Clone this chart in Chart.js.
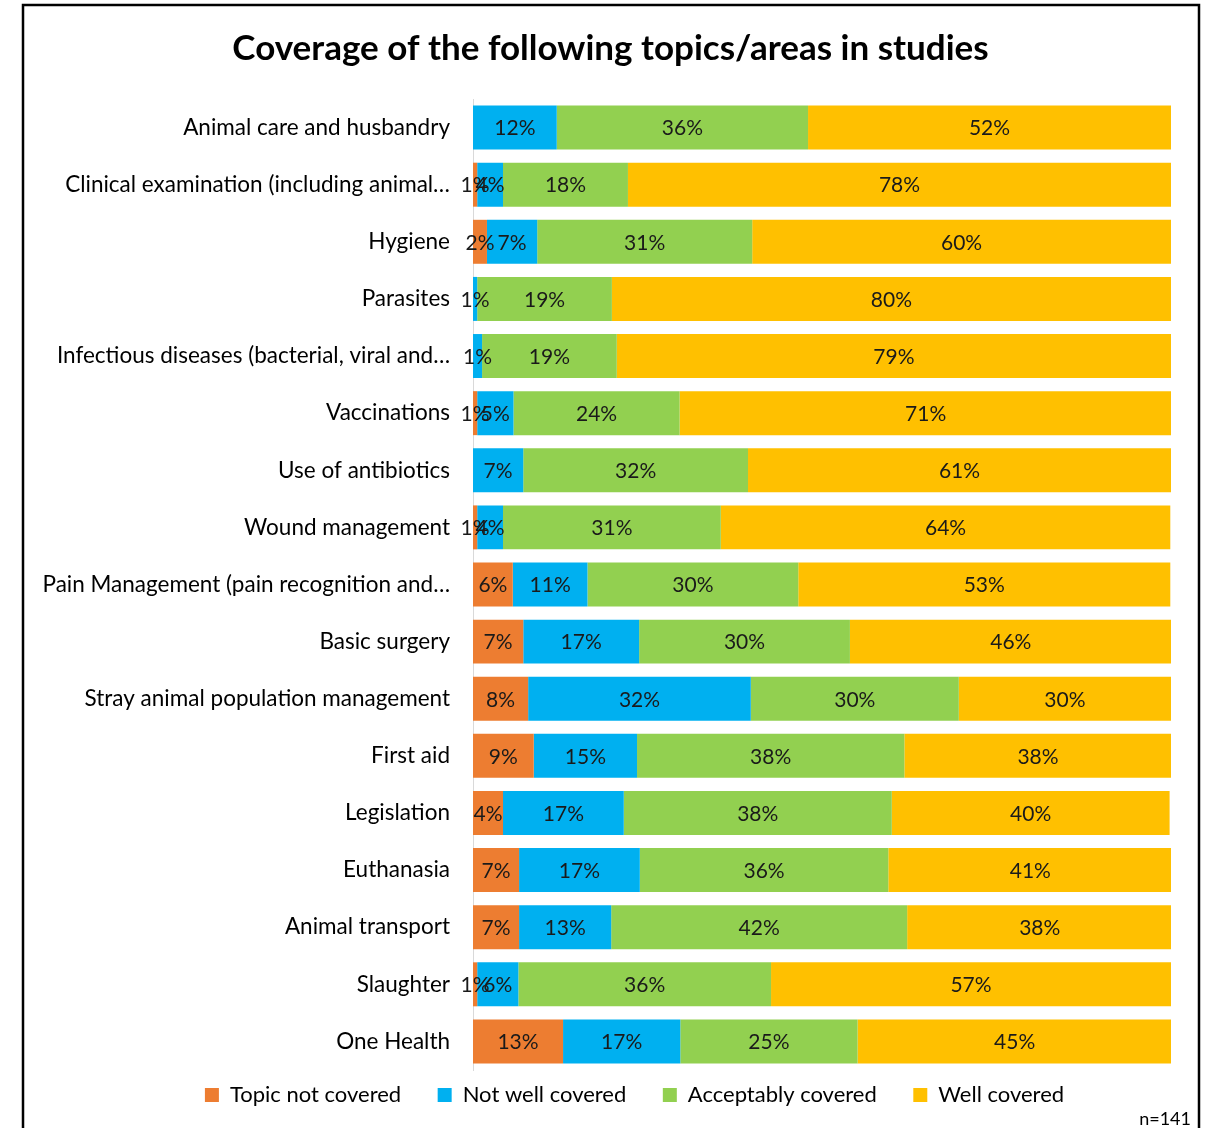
<!DOCTYPE html>
<html>
<head>
<meta charset="utf-8">
<script src="https://cdn.jsdelivr.net/npm/chart.js@4.4.1/dist/chart.umd.min.js"></script>
<style>
  html, body { margin: 0; padding: 0; background: #fff; }
  #wrap { position: absolute; left: 0; top: 0; width: 1210px; height: 1128px; }
</style>
</head>
<body>
<div id="wrap"><canvas id="coverageChart"></canvas></div>
<script>
// topics (as Excel truncates them)
const topics = [
    'Animal care and husbandry',
    'Clinical examination (including animal…',
    'Hygiene',
    'Parasites',
    'Infectious diseases (bacterial, viral and…',
    'Vaccinations',
    'Use of antibiotics',
    'Wound management',
    'Pain Management (pain recognition and…',
    'Basic surgery',
    'Stray animal population management',
    'First aid',
    'Legislation',
    'Euthanasia',
    'Animal transport',
    'Slaughter',
    'One Health'
];

const seriesNames = ['Topic not covered', 'Not well covered', 'Acceptably covered', 'Well covered'];

// shares in %
const notCovered   = [0,   0.6, 2.0, 0,    0,    0.6, 0,    0.6, 5.7,  7.2,  7.9,  8.7,  4.3,  6.6,  6.6,  0.6,  12.9];
const notWell      = [12,  3.7, 7.2, 0.6,  1.3,  5.2, 7.2,  3.7, 10.7, 16.6, 31.9, 14.8, 17.3, 17.3, 13.2, 5.9,  16.8];
const acceptably   = [36,  17.9, 30.8, 19.3, 19.3, 23.8, 32.2, 31.2, 30.2, 30.2, 29.8, 38.3, 38.4, 35.6, 42.4, 36.2, 25.4];
const wellCovered  = [52,  77.8, 60,  80.1, 79.4, 70.5, 60.6, 64.4, 53.3, 46.1, 30.4, 38.3, 39.8, 40.7, 38.0, 57.3, 45.0];

const colors = ['#ED7D31', '#00B0F0', '#92D050', '#FFC000'];
const FONT = 'Lato, "Open Sans", sans-serif';
const PAD_LEFT = 30;

// percent labels in the middle of each segment
const segmentLabels = {
    id: 'segmentLabels',
    afterDatasetsDraw(chart) {
        const ctx = chart.ctx;
        ctx.save();
        ctx.font = '21px ' + FONT;
        ctx.fillStyle = '#1a1a1a';
        ctx.textAlign = 'center';
        ctx.textBaseline = 'middle';
        chart.data.datasets.forEach((ds, i) => {
            const meta = chart.getDatasetMeta(i);
            meta.data.forEach((bar, j) => {
                const v = ds.data[j];
                if (!v) return;
                const p = bar.getCenterPoint();
                ctx.fillText(Math.round(v) + '%', p.x, p.y + 1);
            });
        });
        ctx.restore();
    }
};

// outer frame, sample size note, and nudging title/legend like the original
const frame = {
    id: 'frame',
    afterLayout(chart) {
        if (chart.legend) { chart.legend.left += 34; chart.legend.right += 34; }
        if (chart.titleBlock) { chart.titleBlock.left += 10; chart.titleBlock.right += 10; }
    },
    beforeDraw(chart) {
        const ctx = chart.ctx;
        ctx.save();
        ctx.fillStyle = '#fff';
        ctx.fillRect(0, 0, chart.width, chart.height);
        ctx.strokeStyle = '#000';
        ctx.lineWidth = 2.5;
        ctx.strokeRect(23, 5, 1176, 1140);
        ctx.restore();
    },
    afterDraw(chart) {
        const ctx = chart.ctx;
        ctx.save();
        ctx.font = '18px ' + FONT;
        ctx.fillStyle = '#000';
        ctx.textAlign = 'right';
        ctx.textBaseline = 'middle';
        ctx.fillText('n=141', 1191, 1119);
        ctx.restore();
    }
};

const ctx = document.getElementById('coverageChart').getContext('2d');
new Chart(ctx, {
    type: 'bar',
    data: {
        labels: topics,
        datasets: [notCovered, notWell, acceptably, wellCovered].map((vals, i) => ({
            label: seriesNames[i],
            data: vals,
            backgroundColor: colors[i],
            borderWidth: 0,
            barPercentage: 0.77,
            categoryPercentage: 1
        }))
    },
    options: {
        indexAxis: 'y',
        responsive: true,
        maintainAspectRatio: false,
        animation: false,
        layout: { padding: { left: PAD_LEFT, right: 39, top: 28, bottom: 12 } },
        scales: {
            x: {
                stacked: true,
                min: 0,
                max: 100,
                display: false
            },
            y: {
                stacked: true,
                grid: { display: false },
                border: { display: true, color: '#d9d9d9', width: 1 },
                ticks: {
                    color: '#000',
                    font: { family: FONT, size: 22.5 },
                    padding: 15,
                    autoSkip: false
                },
                afterFit(scale) { scale.width = 473 - PAD_LEFT; }
            }
        },
        plugins: {
            title: {
                display: true,
                text: 'Coverage of the following topics/areas in studies',
                color: '#000',
                font: { family: FONT, size: 35, weight: 'bold' },
                padding: { top: 0, bottom: 29 }
            },
            legend: {
                position: 'bottom',
                labels: {
                    color: '#000',
                    font: { family: FONT, size: 22 },
                    boxWidth: 14,
                    boxHeight: 14,
                    padding: 14,
                    generateLabels(chart) {
                        const items = Chart.defaults.plugins.legend.labels.generateLabels(chart);
                        // extra gap between entries
                        items.forEach((it, i) => {
                            if (i < items.length - 1) it.text = it.text + '    ';
                        });
                        return items;
                    }
                }
            },
            tooltip: { enabled: false }
        }
    },
    plugins: [frame, segmentLabels]
});
</script>
</body>
</html>
